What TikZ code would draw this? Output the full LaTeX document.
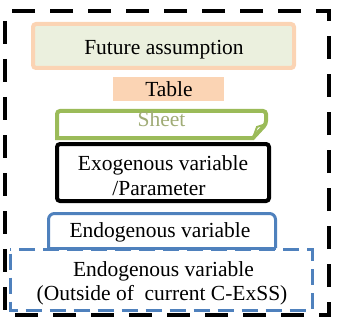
\documentclass[tikz,border=0pt]{standalone}
\usepackage{fontspec}
\setmainfont{Liberation Serif}
\definecolor{peach}{RGB}{251,212,180}
\definecolor{olivebg}{RGB}{235,240,222}
\definecolor{sheetgreen}{RGB}{155,187,89}
\definecolor{sheettext}{RGB}{160,172,118}
\definecolor{bluebox}{RGB}{79,129,189}
\begin{document}
\begin{tikzpicture}[x=1pt,y=-1pt,
  lbl/.style={font=\fontsize{21.5}{25}\selectfont, inner sep=0pt, anchor=base, text=black},
  boxnode/.style={draw, inner sep=0pt, outer sep=0pt}]
\useasboundingbox (0,0) rectangle (337,326);
% outer dashed frame
\draw[line width=4, dash pattern=on 23 off 15, dash phase=28] (5,11) rectangle (329,315);
% Future assumption
\node[boxnode, draw=peach, fill=olivebg, line width=4, rounded corners=3,
      minimum width=261, minimum height=44] (fut) at (163.5,46) {};
\node[lbl] (futt) at (164,55) {Future assumption};
% Table
\node[fill=peach, inner sep=0pt, minimum width=111, minimum height=24] (tab) at (168.5,89) {};
\node[lbl] (tabt) at (169,97) {Table};
% Sheet
\draw[sheetgreen, line width=4, fill=white, rounded corners=3]
  (57,138) -- (57,111) -- (266,111) -- (266,124) [sharp corners] -- (253,138) -- cycle;
\draw[sheetgreen, line width=2] (266,124) -- (257,127) -- (253,138);
\node[lbl, text=sheettext] (sht) at (161.5,127) {Sheet};
% Exogenous
\node[boxnode, draw=black, line width=4, rounded corners=3,
      minimum width=212, minimum height=57] (exo) at (163,172.5) {};
\node[lbl] (exo1) at (163,170) {Exogenous variable};
\node[lbl] (exo2) at (159,195) {/Parameter};
% Endogenous (outside) dashed
\draw[bluebox, line width=3, dash pattern=on 16 off 8, dash phase=-4] (10,249.5) rectangle (312,310);
% Endogenous solid
\draw[bluebox, line width=3, rounded corners=6] (48.5,248) -- (48.5,213.5) -- (275.5,213.5) -- (275.5,248);
\draw[bluebox, line width=3] (48.5,248) -- (275.5,248);
\node[lbl] (endo) at (160,237) {Endogenous variable};
\node[lbl] (out1) at (163.5,276) {Endogenous variable};
\node[lbl] (out2) at (162,300) {(Outside of\ \ current C-ExSS)};
\end{tikzpicture}
\end{document}
